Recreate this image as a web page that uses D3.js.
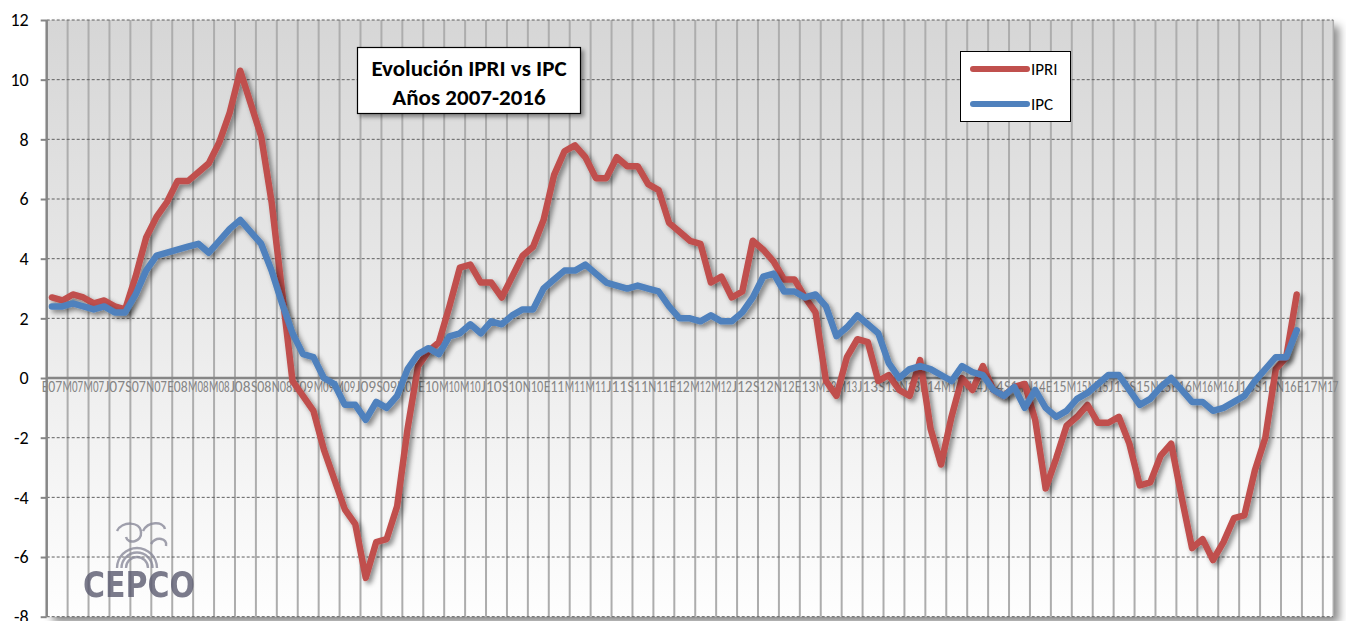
<!DOCTYPE html>
<meta charset="utf-8">
<style>
body {
  margin: 0;
  background: #fff;
  font-family: Carlito, Lato, 'Open Sans', sans-serif;
}
.axis .domain {
  display: none;
}
</style>
<svg width="1346" height="621"></svg>
<script src="https://d3js.org/d3.v7.min.js"></script>
<script>
// month letters (Spanish) and years used for the category axis, E07 .. M17
var monthLetters = ["E", "F", "M", "A", "M", "J", "J", "A", "S", "O", "N", "D"];
var years = ["07", "08", "09", "10", "11", "12", "13", "14", "15", "16", "17"];
var categories = [];
years.forEach(function(yr) {
  monthLetters.forEach(function(m) { categories.push(m + yr); });
});
categories = categories.slice(0, 123); // axis runs to M17

// values, Jan 2007 .. Dec 2016
var ipri = [
  2.7, 2.6, 2.8, 2.7, 2.5, 2.6, 2.4, 2.3, 3.4, 4.7, 5.4, 5.9,
  6.6, 6.6, 6.9, 7.2, 7.9, 8.9, 10.3, 9.2, 8.1, 5.9, 2.9, -0.1,
  -0.6, -1.1, -2.4, -3.4, -4.4, -4.9, -6.7, -5.5, -5.4, -4.3, -1.7, 0.4,
  0.9, 1.2, 2.4, 3.7, 3.8, 3.2, 3.2, 2.7, 3.4, 4.1, 4.4, 5.3,
  6.8, 7.6, 7.8, 7.4, 6.7, 6.7, 7.4, 7.1, 7.1, 6.5, 6.3, 5.2,
  4.9, 4.6, 4.5, 3.2, 3.4, 2.7, 2.9, 4.6, 4.3, 3.9, 3.3, 3.3,
  2.7, 2.2, -0.1, -0.6, 0.7, 1.3, 1.2, -0.1, 0.1, -0.4, -0.6, 0.6,
  -1.7, -2.9, -1.3, 0.0, -0.4, 0.4, -0.4, -0.6, -0.3, -0.2, -1.4, -3.7,
  -2.7, -1.6, -1.3, -0.9, -1.5, -1.5, -1.3, -2.2, -3.6, -3.5, -2.6, -2.2,
  -4.0, -5.7, -5.4, -6.1, -5.5, -4.7, -4.6, -3.1, -2.0, 0.3, 0.7, 2.8
];
var ipc = [
  2.4, 2.4, 2.5, 2.4, 2.3, 2.4, 2.2, 2.2, 2.8, 3.6, 4.1, 4.2,
  4.3, 4.4, 4.5, 4.2, 4.6, 5.0, 5.3, 4.9, 4.5, 3.6, 2.5, 1.5,
  0.8, 0.7, 0.0, -0.2, -0.9, -0.9, -1.4, -0.8, -1.0, -0.6, 0.3, 0.8,
  1.0, 0.8, 1.4, 1.5, 1.8, 1.5, 1.9, 1.8, 2.1, 2.3, 2.3, 3.0,
  3.3, 3.6, 3.6, 3.8, 3.5, 3.2, 3.1, 3.0, 3.1, 3.0, 2.9, 2.4,
  2.0, 2.0, 1.9, 2.1, 1.9, 1.9, 2.2, 2.7, 3.4, 3.5, 2.9, 2.9,
  2.7, 2.8, 2.4, 1.4, 1.7, 2.1, 1.8, 1.5, 0.5, 0.0, 0.3, 0.4,
  0.3, 0.1, -0.1, 0.4, 0.2, 0.1, -0.4, -0.6, -0.3, -1.0, -0.4, -1.0,
  -1.3, -1.1, -0.7, -0.5, -0.2, 0.1, 0.1, -0.4, -0.9, -0.7, -0.3, 0.0,
  -0.4, -0.8, -0.8, -1.1, -1.0, -0.8, -0.6, -0.1, 0.3, 0.7, 0.7, 1.6
];

var yTicks = [-8, -6, -4, -2, 0, 2, 4, 6, 8, 10, 12];
var seriesNames = ["IPRI", "IPC"];
var seriesColors = ["#c0504d", "#4f81bd"];
var seriesValues = [ipri, ipc];

var svg = d3.select("svg");
var plotLeft = 46.7, plotRight = 1333.3, plotTop = 20, plotBottom = 616.7;

var x = d3.scaleBand()
    .domain(d3.range(categories.length))
    .range([plotLeft, plotRight])
    .padding(0);

var y = d3.scaleLinear()
    .domain([-8, 12])
    .range([plotBottom, plotTop]);

var defs = svg.append("defs");

var grad = defs.append("linearGradient")
    .attr("id", "plotBg")
    .attr("x1", 0).attr("y1", 0).attr("x2", 0).attr("y2", 1);
grad.append("stop").attr("offset", "0%").attr("stop-color", "#d6d6d6");
grad.append("stop").attr("offset", "55%").attr("stop-color", "#ececec");
grad.append("stop").attr("offset", "100%").attr("stop-color", "#fefefe");

function shadow(id, d, blur, op) {
  defs.append("filter")
      .attr("id", id)
      .attr("x", "-10%").attr("y", "-10%")
      .attr("width", "130%").attr("height", "130%")
    .append("feDropShadow")
      .attr("dx", d).attr("dy", d)
      .attr("stdDeviation", blur)
      .attr("flood-color", "#000")
      .attr("flood-opacity", op);
}
shadow("plotShadow", 6, 4, 0.45);
shadow("lineShadow", 3, 2.5, 0.45);
shadow("boxShadow", 3, 2, 0.4);

// plot area
svg.append("rect")
    .attr("x", plotLeft)
    .attr("y", plotTop)
    .attr("width", plotRight - plotLeft)
    .attr("height", plotBottom - plotTop)
    .attr("fill", "url(#plotBg)")
    .attr("filter", "url(#plotShadow)");

// vertical gridlines every two months
var gridIdx = d3.range(2, categories.length, 2);
svg.append("g")
  .selectAll("line")
  .data(gridIdx)
  .enter().append("line")
    .attr("x1", function(d) { return x(d); })
    .attr("x2", function(d) { return x(d); })
    .attr("y1", plotTop)
    .attr("y2", plotBottom)
    .attr("stroke", "#adadad")
    .attr("stroke-width", 2);

svg.append("line")
    .attr("x1", plotRight).attr("x2", plotRight)
    .attr("y1", plotTop).attr("y2", plotBottom)
    .attr("stroke", "#adadad")
    .attr("stroke-width", 1.5);

// horizontal dashed gridlines
svg.append("g")
  .selectAll("line")
  .data(yTicks.filter(function(d) { return d !== 0; }))
  .enter().append("line")
    .attr("x1", plotLeft)
    .attr("x2", plotRight)
    .attr("y1", function(d) { return y(d); })
    .attr("y2", function(d) { return y(d); })
    .attr("stroke", "#5f5f5f")
    .attr("stroke-width", 1)
    .attr("stroke-dasharray", "3,2");

// left axis
var yAxis = svg.append("g")
    .attr("class", "axis")
    .attr("transform", "translate(" + plotLeft + ",0)")
    .call(d3.axisLeft(y)
      .tickValues(yTicks)
      .tickSize(6)
      .tickPadding(12)
      .tickFormat(function(d) { return String(d); }));
yAxis.selectAll("line").attr("stroke", "#868686").attr("stroke-width", 2);
yAxis.selectAll("text")
    .attr("fill", "#000")
    .style("font-size", "18px")
    .style("font-family", "Carlito, Lato, sans-serif");

svg.append("line")
    .attr("x1", plotLeft).attr("x2", plotLeft)
    .attr("y1", plotTop).attr("y2", plotBottom)
    .attr("stroke", "#868686")
    .attr("stroke-width", 2.5);

// category axis at zero
var xAxis = svg.append("g")
    .attr("class", "axis")
    .attr("transform", "translate(0," + y(0) + ")")
    .call(d3.axisBottom(x)
      .tickValues(d3.range(0, categories.length, 2))
      .tickSize(0)
      .tickPadding(3)
      .tickFormat(function(i) { return categories[i]; }));
xAxis.selectAll("text")
    .attr("fill", "#858585")
    .attr("textLength", 20.5)
    .attr("lengthAdjust", "spacingAndGlyphs")
    .style("font-size", "16px")
    .style("font-family", "Carlito, Lato, sans-serif");

svg.append("line")
    .attr("x1", plotLeft).attr("x2", plotRight)
    .attr("y1", y(0)).attr("y2", y(0))
    .attr("stroke", "#868686")
    .attr("stroke-width", 2.5);

// logo (faint, behind the lines)
var logo = svg.append("g").attr("opacity", 0.8);
[20, 15.5, 11].forEach(function(r) {
  logo.append("path")
      .attr("d", d3.arc()({innerRadius: r - 1.2, outerRadius: r + 1.2,
                           startAngle: -Math.PI / 2, endAngle: Math.PI / 2}))
      .attr("transform", "translate(137,568)")
      .attr("fill", "#8a8a9a");
});
logo.append("path")
    .attr("d", "M117,531 C122,521 140,521 141,532 C142,542 128,545 126,537 M143,531 C148,521 163,521 165,529 M151,544 C156,536 168,538 166,546")
    .attr("fill", "none")
    .attr("stroke", "#8a8a9a")
    .attr("stroke-width", 2.5);
logo.append("text")
    .attr("x", 83)
    .attr("y", 597)
    .attr("textLength", 112)
    .attr("lengthAdjust", "spacingAndGlyphs")
    .attr("fill", "#5b5b70")
    .style("font-family", "'DejaVu Sans', sans-serif")
    .style("font-weight", "bold")
    .style("font-size", "36px")
    .text("CEPCO");

// series lines
var line = d3.line()
    .x(function(d, i) { return x(i) + x.bandwidth() / 2; })
    .y(function(d) { return y(d); });

svg.append("g")
  .selectAll("path")
  .data(seriesValues)
  .enter().append("path")
    .attr("d", line)
    .attr("fill", "none")
    .attr("stroke", function(d, i) { return seriesColors[i]; })
    .attr("stroke-width", 6.5)
    .attr("stroke-linejoin", "round")
    .attr("stroke-linecap", "round")
    .attr("filter", "url(#lineShadow)");

// title box
svg.append("rect")
    .attr("x", 357.5).attr("y", 47.5)
    .attr("width", 223).attr("height", 66)
    .attr("fill", "#fff")
    .attr("stroke", "#000")
    .attr("stroke-width", 1.2)
    .attr("filter", "url(#boxShadow)");

svg.append("g")
    .attr("text-anchor", "middle")
    .style("font-weight", "bold")
    .style("font-size", "23px")
    .style("font-family", "Carlito, Lato, sans-serif")
  .selectAll("text")
  .data(["Evolución IPRI vs IPC", "Años 2007-2016"])
  .enter().append("text")
    .attr("x", 469)
    .attr("y", function(d, i) { return 76 + i * 28.5; })
    .text(function(d) { return d; });

// legend
svg.append("rect")
    .attr("x", 960.5).attr("y", 51.5)
    .attr("width", 110).attr("height", 70)
    .attr("fill", "#fff")
    .attr("stroke", "#000")
    .attr("stroke-width", 1);

var legend = svg.append("g")
  .selectAll("g")
  .data(seriesNames)
  .enter().append("g")
    .attr("transform", function(d, i) { return "translate(0," + (69 + i * 35) + ")"; });

legend.append("line")
    .attr("x1", 973).attr("x2", 1027)
    .attr("stroke", function(d, i) { return seriesColors[i]; })
    .attr("stroke-width", 6)
    .attr("stroke-linecap", "round");

legend.append("text")
    .attr("x", 1031)
    .attr("y", 6)
    .attr("fill", "#000")
    .style("font-size", "17px")
    .style("font-family", "Carlito, Lato, sans-serif")
    .text(function(d) { return d; });
</script>
